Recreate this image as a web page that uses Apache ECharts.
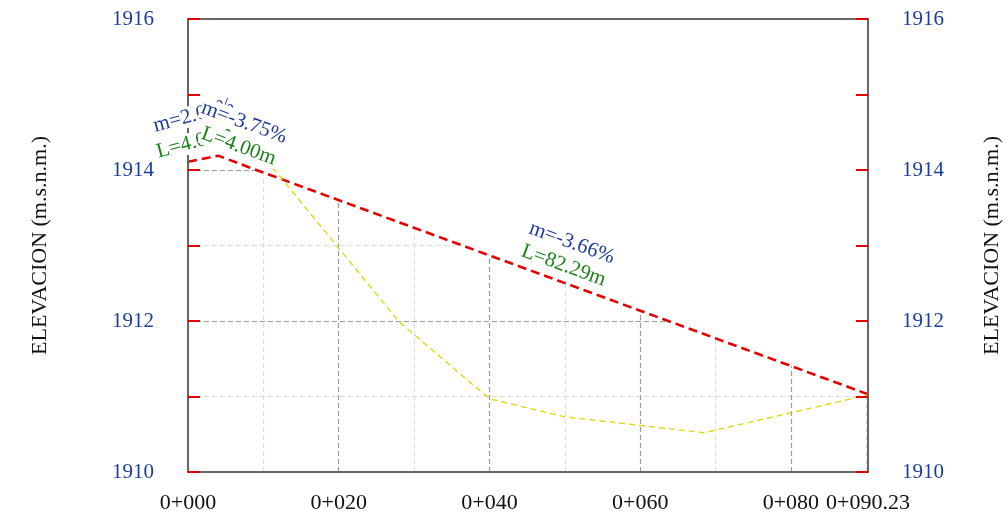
<!DOCTYPE html>
<html>
<head>
<meta charset="utf-8">
<script src="https://cdn.jsdelivr.net/npm/echarts@6/dist/echarts.min.js"></script>
<style>
  html, body { margin: 0; padding: 0; background: #fff; }
  #chart { width: 1008px; height: 522px; }
</style>
</head>
<body>
<div id="chart"></div>
<script>
// rasante (grade line) vertices
const gradeStations = [0, 4, 8, 90.23];
const gradeElev = [1914.11, 1914.19, 1914.04, 1911.03];
// terreno natural
const terrainStations = [10, 11.5, 28, 40, 50, 68.5, 90.23];
const terrainElev = [1914.08, 1914.0, 1911.99, 1910.97, 1910.73, 1910.52, 1911.02];
// segment annotations
const slopeLabels = ['m=2.00%', 'm=-3.75%', 'm=-3.66%'];
const lengthLabels = ['L=4.00m', 'L=4.00m', 'L=82.29m'];
// tick labels
const xTickValues = [0, 20, 40, 60, 80, 90.23];
const xTickLabels = ['0+000', '0+020', '0+040', '0+060', '0+080', '0+090.23'];
const yTickValues = [1910, 1912, 1914, 1916];
const yTickLabels = ['1910', '1912', '1914', '1916'];

const SERIF = 'Liberation Serif, Times New Roman, serif';
const BLUE = '#1c3c9c';
const GREEN = '#188418';

// label styling per segment (rotation in degrees, offset in label frame)
const slopeStyle = [
    { rotate: 15, offset: [2, -44] },
    { rotate: -20, offset: [-3, -40] },
    { rotate: -20, offset: [0, -40] }
];
const lengthStyle = [
    { rotate: 15, offset: [-4, -18] },
    { rotate: -20, offset: [0, -16] },
    { rotate: -20, offset: [0, -16] }
];

const chart = echarts.init(document.getElementById('chart'));

function midPoints() {
    const pts = [];
    for (let i = 0; i < gradeStations.length - 1; i++) {
        pts.push([(gradeStations[i] + gradeStations[i + 1]) / 2, (gradeElev[i] + gradeElev[i + 1]) / 2]);
    }
    return pts;
}
const mids = midPoints();

function labelData(texts, styles, color) {
    return mids.map(function (p, i) {
        return {
            value: p,
            label: {
                show: true,
                formatter: texts[i],
                rotate: styles[i].rotate,
                offset: styles[i].offset,
                color: color,
                opacity: 1,
                fontFamily: SERIF,
                fontSize: 21,
                backgroundColor: '#fff',
                padding: [0, 1]
            }
        };
    });
}

const yAxisBase = {
    type: 'value',
    min: 1910,
    max: 1916,
    interval: 1,
    z: 3,
    axisLine: { show: true, onZero: false, lineStyle: { color: '#666', width: 2 } },
    axisTick: { show: true, inside: true, length: 12, lineStyle: { color: '#e00000', width: 2 } },
    axisLabel: {
        margin: 34,
        color: BLUE,
        fontFamily: SERIF,
        fontSize: 21,
        formatter: function (v) {
            const i = yTickValues.indexOf(v);
            return i >= 0 ? yTickLabels[i] : '';
        }
    },
    splitLine: { show: false },
    name: 'ELEVACION (m.s.n.m.)',
    nameLocation: 'middle',
    nameRotate: 90,
    nameTextStyle: { fontFamily: SERIF, fontSize: 22, color: '#111' }
};

const option = {
    animation: false,
    grid: { left: 188, right: 140, top: 19, bottom: 50, outerBoundsMode: 'none', containLabel: false },
    xAxis: [
        {
            type: 'value', min: 0, max: 90.23, interval: 10, position: 'bottom', z: 3,
            axisLine: { show: true, onZero: false, lineStyle: { color: '#666', width: 2 } },
            axisTick: { show: false },
            axisLabel: {
                margin: 20, color: '#111', fontFamily: SERIF, fontSize: 22, showMaxLabel: true,
                formatter: function (v) {
                    const i = xTickValues.indexOf(v);
                    return i >= 0 ? xTickLabels[i] : '';
                }
            },
            splitLine: { show: false }
        },
        {
            type: 'value', min: 0, max: 90.23, interval: 10, position: 'top', z: 3,
            axisLine: { show: true, onZero: false, lineStyle: { color: '#666', width: 2 } },
            axisTick: { show: false }, axisLabel: { show: false }, splitLine: { show: false }
        },
        {
            // grid lines only
            type: 'value', min: 0, max: 90.23, interval: 10, position: 'bottom', z: 0,
            axisLine: { show: false }, axisTick: { show: false }, axisLabel: { show: false },
            splitLine: { show: true, lineStyle: { color: ['#9a9a9a', '#dcdcdc'], type: [5, 3], width: 1.2 } }
        }
    ],
    yAxis: [
        Object.assign({}, yAxisBase, { position: 'left', nameGap: 137 }),
        Object.assign({}, yAxisBase, { position: 'right', nameGap: 113 }),
        {
            type: 'value', min: 1910, max: 1916, interval: 1, position: 'left', z: 0,
            axisLine: { show: false }, axisTick: { show: false }, axisLabel: { show: false },
            splitLine: { show: true, lineStyle: { color: ['#9a9a9a', '#dcdcdc'], type: [5, 3], width: 1.2 } }
        }
    ],
    series: [
        {
            name: 'Rasante',
            type: 'line',
            xAxisIndex: 0,
            yAxisIndex: 0,
            symbol: 'none',
            data: gradeStations.map(function (s, i) { return [s, gradeElev[i]]; }),
            lineStyle: { color: '#e60000', width: 2.6, type: [9, 5] },
            areaStyle: { color: '#fff', opacity: 1, origin: 'end' },
            z: 2
        },
        {
            name: 'Terreno',
            type: 'line',
            xAxisIndex: 0,
            yAxisIndex: 0,
            symbol: 'none',
            data: terrainStations.map(function (s, i) { return [s, terrainElev[i]]; }),
            lineStyle: { color: '#dcd800', width: 1.3, type: [6, 4] },
            z: 2
        },
        {
            type: 'scatter', xAxisIndex: 0, yAxisIndex: 0, symbolSize: 0, silent: true,
            itemStyle: { opacity: 1 },
            label: { position: 'inside' },
            data: labelData(lengthLabels, lengthStyle, GREEN), z: 4
        },
        {
            type: 'scatter', xAxisIndex: 0, yAxisIndex: 0, symbolSize: 0, silent: true,
            itemStyle: { opacity: 1 },
            label: { position: 'inside' },
            data: labelData(slopeLabels, slopeStyle, BLUE), z: 4
        }
    ]
};

chart.setOption(option);
</script>
</body>
</html>
